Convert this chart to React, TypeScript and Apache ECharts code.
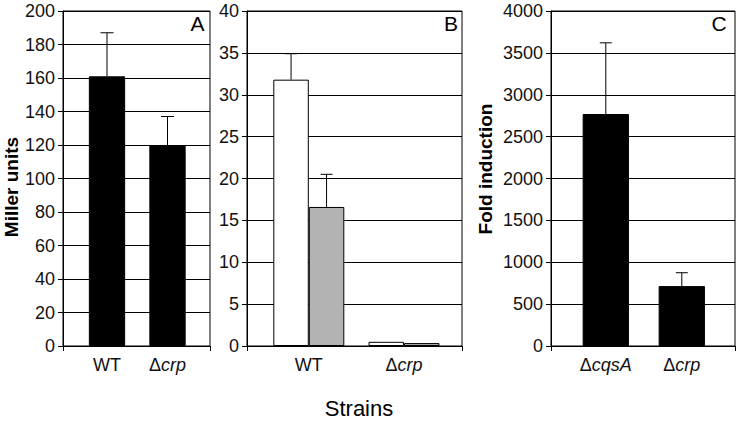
import React, { useEffect, useRef } from "react";
import * as echarts from "echarts";

// ---- data ----
const catsA = ["WT", "{n|Δ}{i|crp}"];
const valuesA = [161, 120];
const errA = [26, 17];

const catsB = ["WT", "{n|Δ}{i|crp}"];
const valuesBWhite = [31.8, 0.5];
const errBWhite = [3.1, 0];
const valuesBGray = [16.6, 0.35];
const errBGray = [3.9, 0];

const catsC = ["{n|Δ}{i|cqsA}", "{n|Δ}{i|crp}"];
const valuesC = [2770, 715];
const errC = [850, 160];

const yMaxA = 200, yStepA = 20;
const yMaxB = 40, yStepB = 5;
const yMaxC = 4000, yStepC = 500;

const FONT = "'Liberation Sans', Arial, Helvetica, sans-serif";

export default function App() {
  const ref = useRef<HTMLDivElement>(null);
  useEffect(() => {
    if (!ref.current) return;
    const chart = echarts.init(ref.current, null, { renderer: "svg" });

    const TOP = 11;
    const HEIGHT = 335;

    const frames = [
      { left: 63, width: 147, max: yMaxA, step: yStepA },
      { left: 247, width: 215, max: yMaxB, step: yStepB },
      { left: 551, width: 184, max: yMaxC, step: yStepC },
    ];
    const barGrids = [
      { left: 76.75, width: 121 },
      { left: 261.2, width: 190.4 },
      { left: 567.8, width: 152 },
    ];

    const grid: any[] = [];
    const xAxis: any[] = [];
    const yAxis: any[] = [];
    frames.forEach((f) => {
      grid.push({
        left: f.left, top: TOP, width: f.width, height: HEIGHT,
        show: true, borderColor: "#000", borderWidth: 1, backgroundColor: "transparent",
      });
    });
    barGrids.forEach((g) => {
      grid.push({ left: g.left, top: TOP, width: g.width, height: HEIGHT });
    });

    frames.forEach((f, i) => {
      xAxis.push({
        gridIndex: i, type: "category", data: [""], boundaryGap: true,
        axisLine: { show: true, lineStyle: { color: "#000", width: 1 } },
        axisTick: { show: true, length: 5, lineStyle: { color: "#000" } },
        axisLabel: { show: false },
        splitLine: { show: false },
      });
      yAxis.push({
        gridIndex: i, type: "value", min: 0, max: f.max, interval: f.step,
        axisLine: { show: true, lineStyle: { color: "#000", width: 1 } },
        axisTick: { show: true, length: 5, lineStyle: { color: "#000" } },
        axisLabel: {
          show: true, color: "#111", fontSize: 18, fontFamily: FONT, margin: 8,
          formatter: (v: number) => String(v),
        },
        splitLine: { show: true, lineStyle: { color: "#000", width: 1 } },
      });
    });
    const rich = {
      n: { fontSize: 18, fontFamily: FONT, color: "#111" },
      i: { fontSize: 18, fontFamily: FONT, color: "#111", fontStyle: "italic" },
    };
    [catsA, catsB, catsC].forEach((cats, i) => {
      xAxis.push({
        gridIndex: 3 + i, type: "category", data: cats,
        axisLine: { show: false }, axisTick: { show: false },
        axisLabel: {
          show: true, interval: 0, hideOverlap: false,
          color: "#111", fontSize: 18, fontFamily: FONT, margin: 10, rich,
        },
        splitLine: { show: false },
      });
      yAxis.push({
        gridIndex: 3 + i, type: "value", min: 0, max: frames[i].max, interval: frames[i].step,
        show: false, splitLine: { show: false },
      });
    });

    const errSeries = (axisIdx: number, vals: number[], errs: number[], offset: number, cap: number) => ({
      type: "custom",
      xAxisIndex: axisIdx, yAxisIndex: axisIdx,
      z: 5,
      data: vals.map((v, k) => [k, v, errs[k]]),
      renderItem: (params: any, api: any) => {
        const e = api.value(2);
        if (!e) return { type: "group", children: [] };
        const p0 = api.coord([api.value(0), api.value(1)]);
        const p1 = api.coord([api.value(0), api.value(1) + e]);
        const x = p0[0] + offset;
        const style = { stroke: "#000", lineWidth: 1 };
        return {
          type: "group",
          children: [
            { type: "line", shape: { x1: x, y1: p0[1], x2: x, y2: p1[1] }, style },
            { type: "line", shape: { x1: x - cap / 2, y1: p1[1], x2: x + cap / 2, y2: p1[1] }, style },
          ],
        };
      },
    });

    const series: any[] = [
      {
        type: "bar", xAxisIndex: 3, yAxisIndex: 3, data: valuesA, barWidth: 36.3,
        itemStyle: { color: "#000", borderColor: "#000", borderWidth: 1 },
      },
      errSeries(3, valuesA, errA, 0, 13),
      {
        type: "bar", xAxisIndex: 4, yAxisIndex: 4, data: valuesBWhite, barWidth: 35.5, barGap: "0%",
        itemStyle: { color: "#fff", borderColor: "#000", borderWidth: 1 },
      },
      {
        type: "bar", xAxisIndex: 4, yAxisIndex: 4, data: valuesBGray, barWidth: 35.5, barGap: "0%",
        itemStyle: { color: "#b3b3b3", borderColor: "#000", borderWidth: 1 },
      },
      errSeries(4, valuesBWhite, errBWhite, -17.75, 12),
      errSeries(4, valuesBGray, errBGray, 17.75, 12),
      {
        type: "bar", xAxisIndex: 5, yAxisIndex: 5, data: valuesC, barWidth: 46.3,
        itemStyle: { color: "#000", borderColor: "#000", borderWidth: 1 },
      },
      errSeries(5, valuesC, errC, 0, 12),
    ];

    const txt = (text: string, x: number, y: number, size: number, bold: boolean, rotation = 0) => ({
      type: "text", x, y, rotation, z: 10,
      style: {
        text, fontSize: size, fontFamily: FONT, fontWeight: bold ? "bold" : "normal",
        fill: "#000", align: "center", verticalAlign: "middle",
      },
    });

    chart.setOption({
      animation: false,
      backgroundColor: "#fff",
      grid, xAxis, yAxis, series,
      graphic: [
        txt("Miller units", 11, 187, 19, true, Math.PI / 2),
        txt("Fold induction", 485, 169, 19, true, Math.PI / 2),
        txt("Strains", 359, 408, 22, false),
        txt("A", 197.5, 23, 21, false),
        txt("B", 451, 23, 21, false),
        txt("C", 719, 23, 21, false),
      ],
    });
    return () => chart.dispose();
  }, []);
  return (
    <div
      ref={ref}
      style={{ position: "fixed", left: 0, top: 0, width: 737, height: 421, background: "#fff" }}
    />
  );
}
